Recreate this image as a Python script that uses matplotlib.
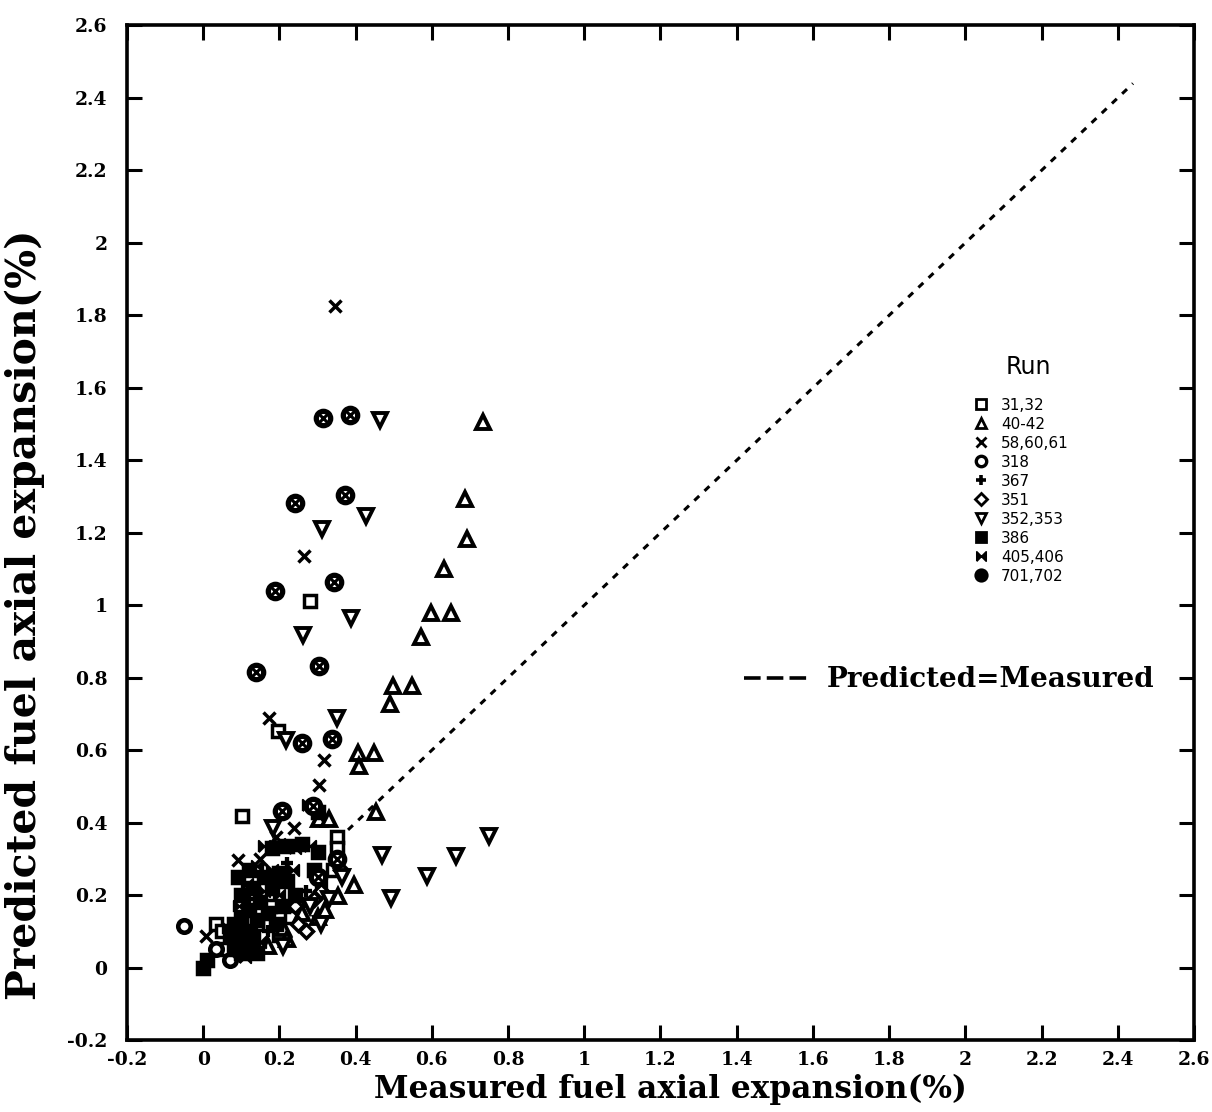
import matplotlib
matplotlib.use('Agg')
import matplotlib.pyplot as plt
from matplotlib.lines import Line2D

# ---------------- data ----------------
tick_vals = [-0.2, 0, 0.2, 0.4, 0.6, 0.8, 1, 1.2, 1.4, 1.6, 1.8, 2, 2.2, 2.4, 2.6]
tick_labels = ['-0.2', '0', '0.2', '0.4', '0.6', '0.8', '1', '1.2', '1.4', '1.6',
               '1.8', '2', '2.2', '2.4', '2.6']

run_labels = ['31,32', '40-42', '58,60,61', '318', '367', '351', '352,353',
              '386', '405,406', '701,702']

x_31 = [0.103, 0.279, 0.195, 0.352, 0.352, 0.033, 0.05, 0.10, 0.14, 0.23, 0.20, 0.34, 0.06, 0.12, 0.175]
y_31 = [0.419, 1.012, 0.654, 0.36, 0.33, 0.119, 0.10, 0.08, 0.12, 0.14, 0.09, 0.27, 0.05, 0.19, 0.17]

x_40 = [0.735, 0.688, 0.693, 0.631, 0.599, 0.651, 0.571, 0.498, 0.548, 0.491, 0.407, 0.448,
        0.41, 0.454, 0.304, 0.33, 0.395, 0.353, 0.21, 0.26, 0.30, 0.32, 0.22, 0.17, 0.25]
y_40 = [1.507, 1.293, 1.183, 1.10, 0.978, 0.978, 0.912, 0.776, 0.778, 0.727, 0.592, 0.592,
        0.555, 0.428, 0.41, 0.41, 0.229, 0.197, 0.11, 0.15, 0.14, 0.16, 0.08, 0.06, 0.19]

x_58 = [0.346, 0.264, 0.172, 0.318, 0.303, 0.239, 0.092, 0.007, 0.15, 0.19]
y_58 = [1.826, 1.137, 0.689, 0.574, 0.505, 0.384, 0.298, 0.086, 0.30, 0.36]

x_318 = [-0.05, 0.033, 0.07]
y_318 = [0.115, 0.05, 0.02]

x_367 = [0.12, 0.17, 0.22, 0.27]
y_367 = [0.19, 0.10, 0.29, 0.21]

x_351 = [0.362, 0.25, 0.29, 0.27, 0.24, 0.31]
y_351 = [0.27, 0.12, 0.19, 0.10, 0.17, 0.21]

x_352 = [0.464, 0.426, 0.312, 0.388, 0.263, 0.217, 0.351, 0.751, 0.47, 0.664, 0.586, 0.493,
         0.182, 0.365, 0.28, 0.31, 0.33, 0.21]
y_352 = [1.51, 1.247, 1.21, 0.966, 0.919, 0.629, 0.689, 0.364, 0.312, 0.309, 0.252, 0.192,
         0.384, 0.25, 0.17, 0.12, 0.19, 0.06]

x_386 = [0.0, 0.01, 0.08, 0.10, 0.12, 0.09, 0.11, 0.13, 0.08, 0.10, 0.12, 0.14, 0.15, 0.17,
         0.10, 0.13, 0.09, 0.12, 0.16, 0.18, 0.20, 0.22, 0.19, 0.21, 0.24, 0.14, 0.07, 0.18,
         0.22, 0.26, 0.30, 0.29, 0.30]
y_386 = [0.0, 0.02, 0.05, 0.04, 0.05, 0.08, 0.10, 0.08, 0.12, 0.14, 0.16, 0.13, 0.18, 0.15,
         0.20, 0.22, 0.25, 0.27, 0.25, 0.22, 0.26, 0.24, 0.12, 0.17, 0.20, 0.04, 0.09, 0.33,
         0.335, 0.34, 0.32, 0.27, 0.43]

x_405 = [0.085, 0.105, 0.125, 0.095, 0.115, 0.14, 0.16, 0.18, 0.20, 0.235, 0.15, 0.11, 0.065,
         0.16, 0.20, 0.24, 0.28, 0.275, 0.31]
y_405 = [0.06, 0.09, 0.11, 0.17, 0.23, 0.28, 0.21, 0.27, 0.20, 0.27, 0.07, 0.03, 0.11,
         0.335, 0.34, 0.33, 0.335, 0.45, 0.23]

x_701 = [0.314, 0.386, 0.242, 0.373, 0.188, 0.344, 0.138, 0.305, 0.258, 0.338, 0.206, 0.287, 0.352, 0.30]
y_701 = [1.516, 1.526, 1.282, 1.303, 1.04, 1.064, 0.815, 0.831, 0.620, 0.63, 0.431, 0.445, 0.30, 0.25]

diag_vals = [0.38, 2.44]

# ---------------- figure ----------------
plt.rcParams['font.family'] = ['DejaVu Sans']
fig = plt.figure(figsize=(12.12, 11.12), dpi=100)
ax = fig.add_axes([0.1048, 0.0647, 0.8803, 0.9124])

bowtie = [(-1, -1), (1, 1), (1, -1), (-1, 1), (-1, -1)]
ms = 9
mew = 2.5
k = 'black'

ax.plot(diag_vals, diag_vals, color=k, lw=2.2, ls=(0, (2.2, 2.4)), zorder=1)

ax.plot(x_31, y_31, ls='none', marker='s', ms=ms, mfc='white', mec=k, mew=mew)
ax.plot(x_40, y_40, ls='none', marker='^', ms=ms * 1.05, mfc='white', mec=k, mew=mew + 0.3)
ax.plot(x_58, y_58, ls='none', marker='x', ms=ms * 0.95, mec=k, mew=mew)
ax.plot(x_318, y_318, ls='none', marker='o', ms=ms, mfc='white', mec=k, mew=mew + 0.8)
ax.plot(x_367, y_367, ls='none', marker='+', ms=ms, mec=k, mew=mew + 0.6)
ax.plot(x_351, y_351, ls='none', marker='D', ms=ms * 0.75, mfc='white', mec=k, mew=mew)
ax.plot(x_352, y_352, ls='none', marker='v', ms=ms * 1.05, mfc='white', mec=k, mew=mew + 0.3)
ax.plot(x_386, y_386, ls='none', marker='s', ms=ms, mfc=k, mec=k, mew=mew)
ax.plot(x_405, y_405, ls='none', marker=bowtie, ms=ms * 0.9, mfc=k, mec=k, mew=1.5)
ax.plot(x_701, y_701, ls='none', marker='o', ms=ms * 1.15, mfc='white', mec=k, mew=3.8)
ax.plot(x_701, y_701, ls='none', marker='x', ms=ms * 0.6, mec=k, mew=2.2)

ax.set_xlim(-0.2, 2.6)
ax.set_ylim(-0.2, 2.6)
ax.set_xticks(tick_vals)
ax.set_xticklabels(tick_labels)
ax.set_yticks(tick_vals)
ax.set_yticklabels(tick_labels)

for lab in ax.get_xticklabels() + ax.get_yticklabels():
    lab.set_fontfamily('DejaVu Serif')
    lab.set_fontweight('heavy')
    lab.set_fontsize(13.5)

ax.tick_params(which='both', direction='in', length=11, width=2.2,
               top=True, right=True, labeltop=False, labelright=False)
ax.tick_params(axis='x', pad=8)
ax.tick_params(axis='y', pad=14)
for s in ax.spines.values():
    s.set_linewidth(2.6)

ax.set_xlabel('Measured fuel axial expansion(%)', family='DejaVu Serif',
              weight='bold', fontsize=22.5)
ax.xaxis.set_label_coords(0.509, -0.033)
ax.set_ylabel('Predicted fuel axial expansion(%)', family='DejaVu Serif',
              weight='bold', fontsize=29.5)
ax.yaxis.set_label_coords(-0.077, 0.419)

# Run legend
lms = 7.5
handles = [
    Line2D([], [], ls='none', marker='s', ms=lms, mfc='white', mec=k, mew=2),
    Line2D([], [], ls='none', marker='^', ms=lms, mfc='white', mec=k, mew=2),
    Line2D([], [], ls='none', marker='x', ms=lms * 0.9, mec=k, mew=2),
    Line2D([], [], ls='none', marker='o', ms=lms, mfc='white', mec=k, mew=2.4),
    Line2D([], [], ls='none', marker='+', ms=lms, mec=k, mew=2.6),
    Line2D([], [], ls='none', marker='D', ms=lms * 0.75, mfc='white', mec=k, mew=2),
    Line2D([], [], ls='none', marker='v', ms=lms, mfc='white', mec=k, mew=2),
    Line2D([], [], ls='none', marker='s', ms=lms, mfc=k, mec=k, mew=2),
    Line2D([], [], ls='none', marker=bowtie, ms=lms * 0.9, mfc=k, mec=k, mew=1.2),
    Line2D([], [], ls='none', marker='o', ms=lms * 1.1, mfc=k, mec=k, mew=2),
]
leg = ax.legend(handles, run_labels, loc='upper left', bbox_to_anchor=(0.795, 0.633),
                frameon=False, fontsize=11, labelspacing=0.26, handlelength=0.8,
                handletextpad=0.88, borderpad=0, borderaxespad=0)
ax.add_artist(leg)
ax.text(0.845, 0.663, 'Run', transform=ax.transAxes, ha='center', va='center',
        fontsize=17)

# Predicted=Measured legend
h2 = Line2D([], [], color=k, lw=2.6, ls=(0, (4.6, 1.7)))
ax.legend([h2], ['Predicted=Measured'], loc='center left', bbox_to_anchor=(0.578, 0.355),
          frameon=False, prop=dict(family='DejaVu Serif', weight='bold', size=20),
          handlelength=2.3, handletextpad=0.7, borderpad=0, borderaxespad=0)

fig.savefig('out.png', dpi=100)
